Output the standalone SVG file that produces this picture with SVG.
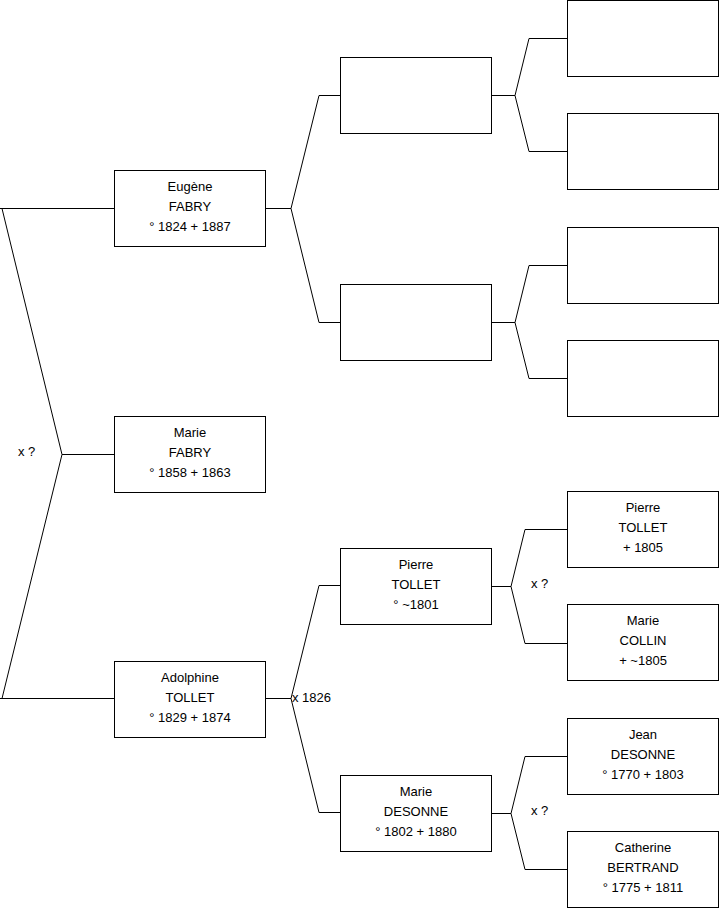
<svg xmlns="http://www.w3.org/2000/svg" width="719" height="908" viewBox="0 0 719 908">
<style>
.box{fill:#fff;stroke:#000;stroke-width:1}
.ln{fill:none;stroke:#000;stroke-width:1}
text{font-family:"Liberation Sans",Arial,sans-serif;font-size:13px;fill:#000;text-anchor:middle}
.lbl{text-anchor:start}
</style>
<rect width="719" height="908" fill="#fff"/>
<g id="connectors">
<path class="ln" d="M0,208.5 H114 M2,208.5 L62,454.5 L2,698.5 M62,454.5 H114 M0,698.5 H114"/>
<path class="ln" d="M265,208.5 H291 L319,95.5 H340 M291,208.5 L319,322.5 H340"/>
<path class="ln" d="M265,698.5 H291 L319,585.5 H340 M291,698.5 L319,812.5 H340"/>
<path class="ln" d="M491,95.5 H515 L529,38.5 H567 M515,95.5 L529,151.5 H567"/>
<path class="ln" d="M491,322.5 H515 L529,265.5 H567 M515,322.5 L529,378.5 H567"/>
<path class="ln" d="M491,586.5 H511 L525,529.5 H567 M511,586.5 L525,643.5 H567"/>
<path class="ln" d="M491,813.5 H511 L525,756.5 H567 M511,813.5 L525,869.5 H567"/>
<text class="lbl" x="18" y="456">x ?</text>
<text class="lbl" x="292" y="702">x 1826</text>
<text class="lbl" x="531" y="588">x ?</text>
<text class="lbl" x="531" y="815">x ?</text>
</g>
<g id="eugene"><rect class="box" x="114.5" y="170.5" width="151" height="76"/><text x="190" y="191">Eugène</text><text x="190" y="211">FABRY</text><text x="190" y="231">° 1824 + 1887</text></g>
<g id="marie-fabry"><rect class="box" x="114.5" y="416.5" width="151" height="76"/><text x="190" y="437">Marie</text><text x="190" y="457">FABRY</text><text x="190" y="477">° 1858 + 1863</text></g>
<g id="adolphine"><rect class="box" x="114.5" y="661.5" width="151" height="76"/><text x="190" y="682">Adolphine</text><text x="190" y="702">TOLLET</text><text x="190" y="722">° 1829 + 1874</text></g>
<g id="f1"><rect class="box" x="340.5" y="57.5" width="151" height="76"/></g>
<g id="m1"><rect class="box" x="340.5" y="284.5" width="151" height="76"/></g>
<g id="pierre-tollet-1801"><rect class="box" x="340.5" y="548.5" width="151" height="76"/><text x="416" y="569">Pierre</text><text x="416" y="589">TOLLET</text><text x="416" y="609">° ~1801</text></g>
<g id="marie-desonne"><rect class="box" x="340.5" y="775.5" width="151" height="76"/><text x="416" y="796">Marie</text><text x="416" y="816">DESONNE</text><text x="416" y="836">° 1802 + 1880</text></g>
<g id="ff"><rect class="box" x="567.5" y="0.5" width="151" height="76"/></g>
<g id="fm"><rect class="box" x="567.5" y="113.5" width="151" height="76"/></g>
<g id="mf"><rect class="box" x="567.5" y="227.5" width="151" height="76"/></g>
<g id="mm"><rect class="box" x="567.5" y="340.5" width="151" height="76"/></g>
<g id="pierre-tollet-1805"><rect class="box" x="567.5" y="491.5" width="151" height="76"/><text x="643" y="512">Pierre</text><text x="643" y="532">TOLLET</text><text x="643" y="552">+ 1805</text></g>
<g id="marie-collin"><rect class="box" x="567.5" y="604.5" width="151" height="76"/><text x="643" y="625">Marie</text><text x="643" y="645">COLLIN</text><text x="643" y="665">+ ~1805</text></g>
<g id="jean-desonne"><rect class="box" x="567.5" y="718.5" width="151" height="76"/><text x="643" y="739">Jean</text><text x="643" y="759">DESONNE</text><text x="643" y="779">° 1770 + 1803</text></g>
<g id="catherine-bertrand"><rect class="box" x="567.5" y="831.5" width="151" height="76"/><text x="643" y="852">Catherine</text><text x="643" y="872">BERTRAND</text><text x="643" y="892">° 1775 + 1811</text></g>
</svg>
